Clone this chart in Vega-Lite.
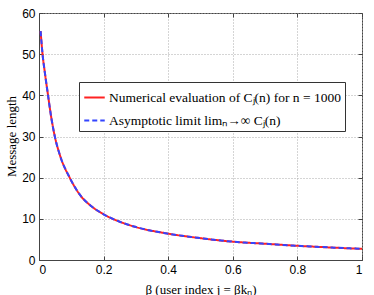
{
  "$schema": "https://vega.github.io/schema/vega-lite/v6.json",
  "width": 323,
  "height": 247,
  "autosize": {"type": "none"},
  "padding": {"left": 39, "top": 13, "right": 12, "bottom": 35},
  "config": {
    "view": {"stroke": "#444", "strokeWidth": 1},
    "axis": {
      "labelFont": "Liberation Sans",
      "labelFontSize": 12,
      "labelColor": "#000",
      "titleFont": "Liberation Serif",
      "titleFontSize": 13,
      "titleFontWeight": "normal",
      "titleColor": "#000",
      "gridColor": "#aaa",
      "gridDash": [1, 2],
      "gridWidth": 1,
      "domainColor": "#444",
      "tickColor": "#444",
      "tickSize": -4
    }
  },
  "datasets": {
    "curves": [
      {"s": "Numerical evaluation of Cⱼ(n) for n = 1000", "b": 0.005, "v": 55.6},
      {"s": "Numerical evaluation of Cⱼ(n) for n = 1000", "b": 0.008, "v": 52.6},
      {"s": "Numerical evaluation of Cⱼ(n) for n = 1000", "b": 0.011, "v": 50},
      {"s": "Numerical evaluation of Cⱼ(n) for n = 1000", "b": 0.018, "v": 45.6},
      {"s": "Numerical evaluation of Cⱼ(n) for n = 1000", "b": 0.028, "v": 40},
      {"s": "Numerical evaluation of Cⱼ(n) for n = 1000", "b": 0.038, "v": 34.6},
      {"s": "Numerical evaluation of Cⱼ(n) for n = 1000", "b": 0.049, "v": 30},
      {"s": "Numerical evaluation of Cⱼ(n) for n = 1000", "b": 0.065, "v": 25.4},
      {"s": "Numerical evaluation of Cⱼ(n) for n = 1000", "b": 0.095, "v": 20},
      {"s": "Numerical evaluation of Cⱼ(n) for n = 1000", "b": 0.13, "v": 15.5},
      {"s": "Numerical evaluation of Cⱼ(n) for n = 1000", "b": 0.16, "v": 13.2},
      {"s": "Numerical evaluation of Cⱼ(n) for n = 1000", "b": 0.2, "v": 11.1},
      {"s": "Numerical evaluation of Cⱼ(n) for n = 1000", "b": 0.25, "v": 9.3},
      {"s": "Numerical evaluation of Cⱼ(n) for n = 1000", "b": 0.3, "v": 8.0},
      {"s": "Numerical evaluation of Cⱼ(n) for n = 1000", "b": 0.4, "v": 6.4},
      {"s": "Numerical evaluation of Cⱼ(n) for n = 1000", "b": 0.5, "v": 5.3},
      {"s": "Numerical evaluation of Cⱼ(n) for n = 1000", "b": 0.6, "v": 4.45},
      {"s": "Numerical evaluation of Cⱼ(n) for n = 1000", "b": 0.7, "v": 3.95},
      {"s": "Numerical evaluation of Cⱼ(n) for n = 1000", "b": 0.8, "v": 3.45},
      {"s": "Numerical evaluation of Cⱼ(n) for n = 1000", "b": 0.9, "v": 3.05},
      {"s": "Numerical evaluation of Cⱼ(n) for n = 1000", "b": 1.0, "v": 2.7},
      {"s": "Asymptotic limit limₙ→∞ Cⱼ(n)", "b": 0.005, "v": 55.6},
      {"s": "Asymptotic limit limₙ→∞ Cⱼ(n)", "b": 0.008, "v": 52.6},
      {"s": "Asymptotic limit limₙ→∞ Cⱼ(n)", "b": 0.011, "v": 50},
      {"s": "Asymptotic limit limₙ→∞ Cⱼ(n)", "b": 0.018, "v": 45.6},
      {"s": "Asymptotic limit limₙ→∞ Cⱼ(n)", "b": 0.028, "v": 40},
      {"s": "Asymptotic limit limₙ→∞ Cⱼ(n)", "b": 0.038, "v": 34.6},
      {"s": "Asymptotic limit limₙ→∞ Cⱼ(n)", "b": 0.049, "v": 30},
      {"s": "Asymptotic limit limₙ→∞ Cⱼ(n)", "b": 0.065, "v": 25.4},
      {"s": "Asymptotic limit limₙ→∞ Cⱼ(n)", "b": 0.095, "v": 20},
      {"s": "Asymptotic limit limₙ→∞ Cⱼ(n)", "b": 0.13, "v": 15.5},
      {"s": "Asymptotic limit limₙ→∞ Cⱼ(n)", "b": 0.16, "v": 13.2},
      {"s": "Asymptotic limit limₙ→∞ Cⱼ(n)", "b": 0.2, "v": 11.1},
      {"s": "Asymptotic limit limₙ→∞ Cⱼ(n)", "b": 0.25, "v": 9.3},
      {"s": "Asymptotic limit limₙ→∞ Cⱼ(n)", "b": 0.3, "v": 8.0},
      {"s": "Asymptotic limit limₙ→∞ Cⱼ(n)", "b": 0.4, "v": 6.4},
      {"s": "Asymptotic limit limₙ→∞ Cⱼ(n)", "b": 0.5, "v": 5.3},
      {"s": "Asymptotic limit limₙ→∞ Cⱼ(n)", "b": 0.6, "v": 4.45},
      {"s": "Asymptotic limit limₙ→∞ Cⱼ(n)", "b": 0.7, "v": 3.95},
      {"s": "Asymptotic limit limₙ→∞ Cⱼ(n)", "b": 0.8, "v": 3.45},
      {"s": "Asymptotic limit limₙ→∞ Cⱼ(n)", "b": 0.9, "v": 3.05},
      {"s": "Asymptotic limit limₙ→∞ Cⱼ(n)", "b": 1.0, "v": 2.7}
    ]
  },
  "data": {"name": "curves"},
  "layer": [
    {
      "mark": {"type": "line", "strokeWidth": 2, "interpolate": "monotone"},
      "encoding": {
        "x": {
          "field": "b", "type": "quantitative",
          "scale": {"domain": [0, 1], "nice": false},
          "axis": {"orient": "bottom", "values": [0, 0.2, 0.4, 0.6, 0.8, 1], "format": "~g", "labelPadding": 8, "title": "β (user index j = βkₙ)", "titleY": 29, "titleBaseline": "middle"}
        },
        "y": {
          "field": "v", "type": "quantitative",
          "scale": {"domain": [0, 60], "nice": false},
          "axis": {"orient": "left", "values": [0, 10, 20, 30, 40, 50, 60], "labelPadding": 8, "title": "Message length", "titleX": -28, "titleY": 123, "titleAngle": -90, "titleBaseline": "middle", "titleAlign": "center"}
        },
        "color": {
          "field": "s", "type": "nominal",
          "scale": {"domain": ["Numerical evaluation of Cⱼ(n) for n = 1000", "Asymptotic limit limₙ→∞ Cⱼ(n)"], "range": ["#ff2222", "#3344ff"]},
          "legend": {
            "title": null,
            "orient": "none",
            "legendX": 40,
            "legendY": 69,
            "fillColor": "white",
            "strokeColor": "#333",
            "padding": 4,
            "rowPadding": 5,
            "symbolType": "stroke",
            "symbolSize": 420,
            "symbolStrokeWidth": 2,
            "labelFont": "Liberation Serif",
            "labelFontSize": 13.5,
            "labelColor": "#000",
            "labelLimit": 0,
            "labelOffset": 3
          }
        },
        "strokeDash": {
          "field": "s", "type": "nominal",
          "scale": {"domain": ["Numerical evaluation of Cⱼ(n) for n = 1000", "Asymptotic limit limₙ→∞ Cⱼ(n)"], "range": [[1, 0], [5, 3]]},
          "legend": null
        },
        "order": {"field": "s", "sort": "descending"}
      }
    },
    {
      "mark": {"type": "line", "opacity": 0},
      "encoding": {
        "x": {
          "field": "b", "type": "quantitative",
          "axis": {"orient": "top", "values": [0, 0.2, 0.4, 0.6, 0.8, 1], "labels": false, "grid": false, "domain": false, "title": null}
        },
        "y": {
          "field": "v", "type": "quantitative",
          "axis": {"orient": "right", "values": [0, 10, 20, 30, 40, 50, 60], "labels": false, "grid": false, "domain": false, "title": null}
        },
        "detail": {"field": "s"}
      }
    }
  ],
  "resolve": {"axis": {"x": "independent", "y": "independent"}}
}
